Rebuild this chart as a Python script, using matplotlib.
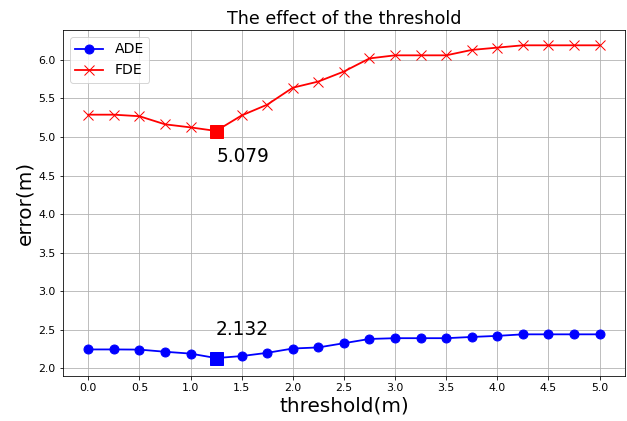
import numpy as np
import matplotlib.pyplot as plt

threshold = np.arange(0, 5.01, 0.25)
ade = [2.244, 2.244, 2.242, 2.214, 2.19, 2.132, 2.158, 2.20, 2.256, 2.27, 2.325,
       2.38, 2.39, 2.39, 2.39, 2.406, 2.42, 2.44, 2.44, 2.44, 2.44]
fde = [5.29, 5.29, 5.27, 5.165, 5.125, 5.079, 5.28, 5.42, 5.64, 5.72, 5.85,
       6.02, 6.06, 6.06, 6.06, 6.13, 6.16, 6.19, 6.19, 6.19, 6.19]

best = int(np.argmin(ade))

fig = plt.figure(figsize=(627 / 72, 421 / 72), dpi=72)
ax = fig.add_axes([0.1, 0.107, 0.897, 0.822])
ax.plot(threshold, ade, 'b-o', markersize=9, linewidth=1.8, label='ADE')
ax.plot(threshold, fde, 'r-x', markersize=10, linewidth=1.8, label='FDE')
ax.plot(threshold[best], ade[best], 'bs', markersize=13)
ax.plot(threshold[best], fde[best], 'rs', markersize=13)
ax.text(threshold[best], ade[best] + 0.3, '%.3f' % ade[best], fontsize=18.5)
ax.text(threshold[best], fde[best] - 0.4, '%.3f' % fde[best], fontsize=18.5)

ax.set_xticks(np.arange(0, 5.01, 0.5))
ax.set_yticks(np.arange(2.0, 6.01, 0.5))
ax.tick_params(labelsize=11)
ax.set_ylim(1.9, 6.39)
ax.grid(True)
ax.set_title('The effect of the threshold', fontsize=17.5)
ax.set_xlabel('threshold(m)', fontsize=20)
ax.set_ylabel('error(m)', fontsize=20)
ax.legend(loc='upper left', fontsize=14)
fig.savefig('out.png', dpi=72)
